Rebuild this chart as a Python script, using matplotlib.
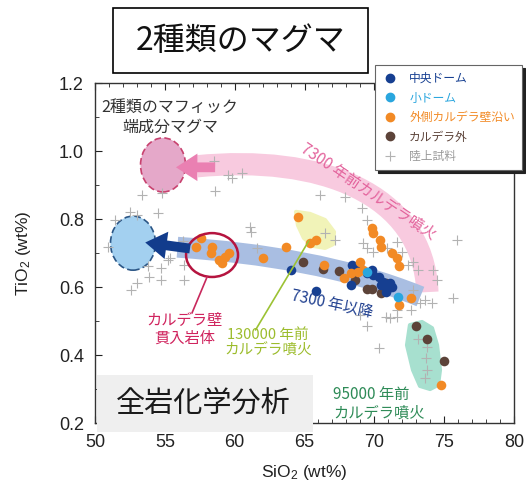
import numpy as np
import matplotlib
matplotlib.use('Agg')
import matplotlib.pyplot as plt
from matplotlib.patches import Ellipse, Polygon, Rectangle, PathPatch
from matplotlib.path import Path
from matplotlib.lines import Line2D

plt.rcParams['font.family'] = ['Liberation Sans', 'Noto Sans CJK JP', 'DejaVu Sans']
plt.rcParams['mathtext.default'] = 'regular'
JP = ['Noto Sans CJK JP', 'DejaVu Sans']

# ---------------- data (SiO2 wt%, TiO2 wt%) ----------------
central_sio2 = [64.0, 65.8, 68.4, 68.3, 69.8, 69.9, 70.3, 70.6, 71.1, 70.5, 71.0, 71.3, 69.5, 69.0, 70.8]
central_tio2 = [0.650, 0.588, 0.665, 0.606, 0.650, 0.635, 0.629, 0.615, 0.612, 0.606, 0.597, 0.600, 0.641, 0.656, 0.585]

small_sio2 = [69.5, 71.7]
small_tio2 = [0.644, 0.571]

outer_sio2 = [57.6, 57.2, 58.4, 58.3, 59.6, 59.3, 58.9, 59.1, 62.0, 63.7, 64.5, 65.4, 65.8, 66.4,
              69.8, 69.9, 70.4, 70.5, 71.3, 71.6, 71.8, 69.0, 69.2, 68.8, 68.3, 67.8, 72.6, 71.8, 74.8]
outer_tio2 = [0.744, 0.718, 0.718, 0.700, 0.700, 0.688, 0.679, 0.671, 0.685, 0.718, 0.806, 0.729, 0.738, 0.665,
              0.774, 0.759, 0.738, 0.718, 0.700, 0.685, 0.662, 0.674, 0.650, 0.644, 0.641, 0.626, 0.568, 0.547, 0.312]

outside_sio2 = [64.9, 66.3, 67.5, 68.6, 69.5, 69.8, 70.8, 70.5, 73.0, 73.8, 75.0]
outside_tio2 = [0.674, 0.653, 0.647, 0.621, 0.594, 0.594, 0.612, 0.582, 0.485, 0.447, 0.382]

land_sio2 = [58.5, 59.5, 59.8, 60.5, 58.6, 53.4, 54.8, 52.5, 53.0, 51.4, 54.5, 61.1, 61.2, 50.9,
             53.8, 54.7, 55.2, 55.4, 56.4, 53.9, 54.7, 56.4, 53.0, 52.6, 56.3, 61.6, 66.1, 67.9,
             69.1, 69.5, 66.5, 67.2, 69.2, 69.5, 69.9, 70.9, 71.6, 72.0, 72.4, 72.8, 73.1, 74.2,
             74.5, 75.9, 72.8, 73.6, 71.6, 72.6, 70.8, 69.0, 73.3, 74.1, 71.1, 71.6, 69.5, 70.3,
             73.1, 73.8, 73.7, 73.8, 73.6, 75.6]
land_tio2 = [0.971, 0.929, 0.921, 0.935, 0.882, 0.871, 0.876, 0.821, 0.812, 0.797, 0.818, 0.776, 0.762, 0.718,
             0.662, 0.656, 0.679, 0.685, 0.665, 0.629, 0.621, 0.621, 0.612, 0.591, 0.735, 0.715, 0.871, 0.865,
             0.832, 0.797, 0.759, 0.738, 0.729, 0.715, 0.703, 0.715, 0.732, 0.703, 0.665, 0.674, 0.650, 0.650,
             0.621, 0.738, 0.591, 0.562, 0.532, 0.532, 0.512, 0.518, 0.553, 0.553, 0.509, 0.512, 0.485, 0.421,
             0.447, 0.424, 0.391, 0.356, 0.332, 0.568]

legend_labels = ['中央ドーム', '小ドーム', '外側カルデラ壁沿い', 'カルデラ外', '陸上試料']
c_central, c_small, c_outer, c_outside, c_land = '#163f91', '#2aa6de', '#f28a25', '#5c4339', '#b2b2b2'

# ---------------- figure ----------------
fig = plt.figure(figsize=(5.26, 4.87), dpi=100)
ax = fig.add_axes([95/526, 64/487, 419/526, 340/487])
ax.set_xlim(50, 80)
ax.set_ylim(0.2, 1.2)

# bands
def bezier_band(p, color, lw, z):
    codes = [Path.MOVETO, Path.CURVE4, Path.CURVE4, Path.CURVE4]
    pp = PathPatch(Path(p, codes), fill=False, edgecolor=color, lw=lw, capstyle='butt', zorder=z)
    ax.add_patch(pp)

bezier_band([(57.3, 0.955), (66.0, 0.99), (73.5, 0.88), (73.8, 0.585)], '#f8cadf', 16, 1)
bezier_band([(55.9, 0.717), (62.0, 0.70), (68.0, 0.66), (73.3, 0.572)], '#a9bee2', 15, 1)

# end-member ellipses
ax.add_patch(Ellipse((54.87, 0.959), 3.22, 0.159, facecolor='#e5a8c9', edgecolor='#c8426f',
                     ls=(0, (4, 2)), lw=1.2, zorder=2))
ax.add_patch(Ellipse((52.72, 0.729), 3.22, 0.159, facecolor='#a3d0f0', edgecolor='#2b5686',
                     ls=(0, (4, 2)), lw=1.2, zorder=2))

# yellow and teal regions
ax.add_patch(Polygon([(64.39, 0.821), (65.39, 0.815), (66.47, 0.797), (67.11, 0.762), (67.04, 0.726),
                      (66.47, 0.715), (65.61, 0.721), (64.96, 0.744), (64.53, 0.782)],
                     closed=True, facecolor='#f1f3b8', edgecolor='#f1f3b8', lw=3, joinstyle='round', zorder=2))
ax.add_patch(Polygon([(72.55, 0.488), (73.41, 0.497), (74.13, 0.479), (74.49, 0.429), (74.70, 0.356),
                      (74.56, 0.312), (73.99, 0.300), (73.27, 0.309), (72.77, 0.356), (72.34, 0.429)],
                     closed=True, facecolor='#a7e0cf', edgecolor='#a7e0cf', lw=3, joinstyle='round', zorder=2))

# arrows
arrow_style = 'simple,head_length=0.7,head_width=0.9,tail_width=0.32'
ax.annotate('', xy=(55.6, 0.952), xytext=(58.8, 0.952),
            arrowprops=dict(arrowstyle=arrow_style, color='#ea80b2', lw=0, mutation_scale=22), zorder=6)
ax.annotate('', xy=(53.4, 0.732), xytext=(57.0, 0.712),
            arrowprops=dict(arrowstyle=arrow_style, color='#123c8c', lw=0, mutation_scale=22), zorder=6)

# data
ax.scatter(land_sio2, land_tio2, marker='+', s=55, c=c_land, linewidths=0.8, zorder=3)
ax.scatter(outside_sio2, outside_tio2, s=48, c=c_outside, zorder=4, linewidths=0)
ax.scatter(central_sio2, central_tio2, s=48, c=c_central, zorder=4, linewidths=0)
ax.scatter(outer_sio2, outer_tio2, s=48, c=c_outer, zorder=4, linewidths=0)
ax.scatter(small_sio2, small_tio2, s=48, c=c_small, zorder=4, linewidths=0)

# red circle + leaders
ax.add_patch(Ellipse((58.38, 0.694), 3.72, 0.129, fill=False, edgecolor='#b5143f', lw=1.8, zorder=5))
ax.plot([58.02, 56.95], [0.629, 0.524], color='#c8285c', lw=1.2, zorder=5)
ax.plot([65.3, 61.5], [0.735, 0.474], color='#9cc234', lw=1.2, zorder=5)

# annotations
ax.text(55.37, 1.10, '2種類のマフィック\n端成分マグマ', family=JP, fontsize=11.5, color='#333333',
        ha='center', va='center', multialignment='center', linespacing=1.25, zorder=7)
ax.text(69.55, 0.879, '7300 年前カルデラ噴火', family=JP, fontsize=11, color='#e3639c',
        rotation=-34, ha='center', va='center', zorder=7)
ax.text(66.97, 0.547, '7300 年以降', family=JP, fontsize=11, color='#1f3f8f',
        rotation=-12, ha='center', va='center', zorder=7)
ax.text(56.4, 0.527, 'カルデラ壁\n貫入岩体', family=JP, fontsize=11, color='#d0245e',
        ha='center', va='top', linespacing=1.1, zorder=7)
ax.text(62.4, 0.478, '130000 年前\nカルデラ噴火', family=JP, fontsize=10.5, color='#9cbc2c',
        ha='center', va='top', linespacing=1.1, zorder=7)
ax.text(67.04, 0.308, '95000 年前\nカルデラ噴火', family=JP, fontsize=11, color='#2e8b57',
        ha='left', va='top', linespacing=1.1, zorder=7)

# axes styling
ax.set_xticks(np.arange(50, 81, 5))
ax.set_yticks(np.arange(0.2, 1.21, 0.2))
ax.set_xticks(np.arange(50, 81, 1), minor=True)
ax.set_yticks(np.arange(0.2, 1.21, 0.1), minor=True)
ax.yaxis.set_major_formatter(plt.FormatStrFormatter('%.1f'))
ax.tick_params(which='both', direction='in', top=True, right=False, labelsize=13, colors='#222222')
ax.tick_params(which='major', length=5, pad=8)
ax.tick_params(which='minor', length=3)
for s in ax.spines.values():
    s.set_color('#333333')
    s.set_linewidth(1.0)
ax.set_xlabel('SiO$_2$ (wt%)', fontsize=12.5, color='#222222')
ax.set_ylabel('TiO$_2$ (wt%)', fontsize=12.5, color='#222222')
ax.xaxis.set_label_coords(0.5, -0.118)
ax.yaxis.set_label_coords(-0.148, 0.5)

# legend
handles = [Line2D([], [], marker='o', ls='none', color=c, markersize=6) for c in
           [c_central, c_small, c_outer, c_outside]]
handles.append(Line2D([], [], marker='+', ls='none', color=c_land, markersize=7, markeredgewidth=0.8))
leg = ax.legend(handles, legend_labels, loc='upper left', bbox_to_anchor=(375/526, 1 - 65/487),
                bbox_transform=fig.transFigure, prop={'family': JP, 'size': 8.5}, frameon=True,
                fancybox=False, edgecolor='#666666', framealpha=1, borderaxespad=0,
                shadow={'ox': 2, 'oy': -2, 'color': '#222222', 'alpha': 1},
                handletextpad=0.9, labelspacing=0.55, borderpad=0.6, handlelength=1.4)
leg.get_frame().set_linewidth(0.8)
for t, c in zip(leg.get_texts(), [c_central, c_small, c_outer, c_outside, '#9a9a9a']):
    t.set_color(c)
leg.set_zorder(20)

# title box
fig.add_artist(Rectangle((113/526, 1 - 73/487), 255/526, 65/487, transform=fig.transFigure,
                         fill=False, edgecolor='black', lw=1.2, zorder=10))
fig.text(240.5/526, 1 - 41/487, '2種類のマグマ', family=JP, fontsize=23, ha='center', va='center',
         color='#111111', zorder=11)

# whole-rock analysis box
fig.add_artist(Rectangle((97/526, 1 - 432/487), (313 - 97)/526, (432 - 375)/487, transform=fig.transFigure,
                         facecolor='#efefef', edgecolor='none', zorder=10))
fig.text(203/526, 1 - 405/487, '全岩化学分析', family=JP, fontsize=21, ha='center', va='center',
         color='#1a1a1a', zorder=11)

fig.savefig('out.png', dpi=100)
